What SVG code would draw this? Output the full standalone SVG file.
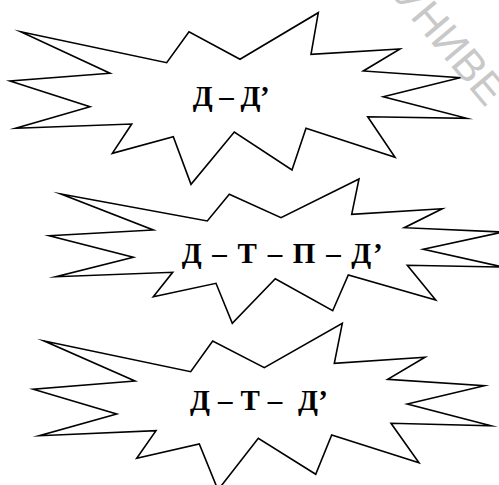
<svg xmlns="http://www.w3.org/2000/svg" width="499" height="485" viewBox="0 0 499 485">
<style>
.burst{fill:#ffffff;stroke:#000000;stroke-width:1.6;stroke-linejoin:miter;stroke-miterlimit:20}
.lbl{font-family:"Liberation Serif","Times New Roman",serif;font-weight:bold;font-size:29px;fill:#000000;white-space:pre}
.wm{font-family:"Liberation Sans",Arial,sans-serif;font-size:43px;fill:#c8c8c8}
</style>
<rect width="499" height="485" fill="#ffffff"/>
<g id="node1">
<polygon class="burst" points="20.7,31.7 166.7,62.7 189,31.7 240,59.3 318.3,12.7 311,54.3 400,49 363.3,71 460,77.7 383.3,96.7 466.7,118.3 367.7,116.7 395,157.3 306,128.3 292,170 234.3,132 191,184.3 173.3,136.7 112.3,153.3 131.7,124 15.7,128.3 90,106.7 10,81 110,73.3"/>
<text class="lbl" x="192.7" y="106" textLength="77" lengthAdjust="spacing">Д – Д’</text>
</g>
<g id="node2">
<polygon class="burst" points="61,194 207.3,221 229.3,194.3 281,217.7 359,179 351.7,214.3 442.3,208.7 404.3,227.7 503,232 423.3,249.3 503,267 407.3,265.3 435.7,300 348.3,275 332.7,310.7 275.3,278.7 232.3,323.3 216,283.3 153.3,296.7 172.7,272.3 56,276.7 133.3,257.3 49.3,235.7 153.3,230"/>
<text class="lbl" x="181.7" y="263" textLength="201" lengthAdjust="spacing">Д – Т – П – Д’</text>
</g>
<g id="node3">
<polygon class="burst" points="44.3,341 190.7,371.7 212.7,341 264.3,367.7 342.3,323.3 334.3,363.3 425,357.3 387.7,379.3 484.3,385.7 407.3,404 491,425.7 391,423.3 419,462.7 331.7,435 315.7,474.3 258.3,438.3 218,490 199.3,444 136.7,458.3 156,430.7 39.3,435.7 116.7,414 33.3,389.3 135,381"/>
<text class="lbl" x="190" y="410" textLength="138" lengthAdjust="spacing">Д – Т –  Д’</text>
</g>
<g id="connectors"></g>
<g id="watermark">
<text class="wm" font-size="43" transform="translate(391.8,-4.2) rotate(50)">УНИВЕ</text>
</g>
</svg>
